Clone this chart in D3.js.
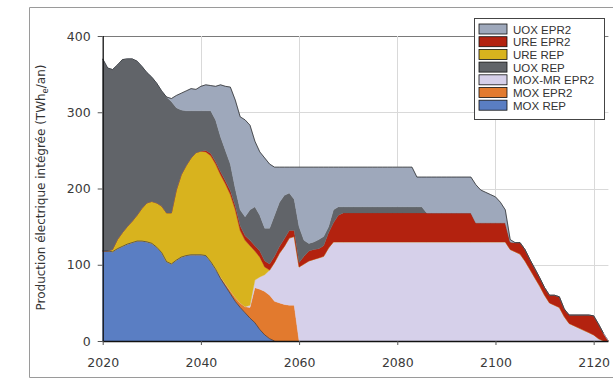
<!DOCTYPE html>
<html>
<head>
<meta charset="utf-8">
<script src="https://cdn.jsdelivr.net/npm/d3@7"></script>
<style>
  html, body { margin: 0; padding: 0; background: #fff; }
  svg { display: block; }
</style>
</head>
<body>
<svg id="chart" width="613" height="381"></svg>
<script>
// Annual electricity production by fuel / reactor type, 2020–2123 (TWhe/an)
const years = d3.range(2020, 2124);

const moxRep = [
  118,118,117,121,124,127,129,131,131,130,
  128,123,116,104,101,106,110,112,113,113,
  113,112,104,94,82,72,62,52,44,37,
  30,24,15,8,3,0,0,0,0,0,
  0,0,0,0,0,0,0,0,0,0,
  0,0,0,0,0,0,0,0,0,0,
  0,0,0,0,0,0,0,0,0,0,
  0,0,0,0,0,0,0,0,0,0,
  0,0,0,0,0,0,0,0,0,0,
  0,0,0,0,0,0,0,0,0,0,
  0,0,0,0
];
const moxEpr2 = [
  0,0,0,0,0,0,0,0,0,0,
  0,0,0,0,0,0,0,0,0,0,
  0,0,0,0,2,3,4,5,6,8,
  14,46,53,57,57,52,50,48,47,47,
  0,0,0,0,0,0,0,0,0,0,
  0,0,0,0,0,0,0,0,0,0,
  0,0,0,0,0,0,0,0,0,0,
  0,0,0,0,0,0,0,0,0,0,
  0,0,0,0,0,0,0,0,0,0,
  0,0,0,0,0,0,0,0,0,0,
  0,0,0,0
];
const moxMrEpr2 = [
  0,0,0,0,0,0,0,0,0,0,
  0,0,0,0,0,0,0,0,0,0,
  0,0,0,0,0,0,0,0,0,0,
  3,10,16,22,33,51,65,76,88,90,
  97,101,105,107,109,111,122,130,130,130,
  130,130,130,130,130,130,130,130,130,130,
  130,130,130,130,130,130,130,130,130,130,
  130,130,130,130,130,130,130,130,130,130,
  130,130,130,120,117,114,105,94,83,72,
  60,50,47,44,32,23,20,17,14,11,
  8,3,0,0
];
const ureRep = [
  0,0,3,12,18,23,28,34,43,51,
  55,58,61,64,67,92,108,118,127,134,
  136,136,139,138,134,131,126,115,95,87,
  78,38,26,10,0,0,0,0,0,0,
  0,0,0,0,0,0,0,0,0,0,
  0,0,0,0,0,0,0,0,0,0,
  0,0,0,0,0,0,0,0,0,0,
  0,0,0,0,0,0,0,0,0,0,
  0,0,0,0,0,0,0,0,0,0,
  0,0,0,0,0,0,0,0,0,0,
  0,0,0,0
];
const ureEpr2 = [
  0,0,0,0,0,0,0,0,0,0,
  0,0,0,0,0,0,0,0,0,0,
  0,2,3,3,4,4,5,5,6,6,
  7,7,8,8,8,8,9,10,10,8,
  6,10,13,13,12,14,20,25,35,38,
  38,38,38,38,38,38,38,38,38,38,
  38,38,38,38,38,38,38,38,38,38,
  38,38,38,38,38,38,25,25,25,25,
  25,25,25,10,12,15,15,13,12,11,
  10,10,13,14,10,11,14,17,20,23,
  25,19,10,0
];
const uoxRep = [
  252,240,236,229,227,220,213,202,186,171,
  163,157,151,152,146,108,85,72,62,55,
  53,52,56,55,46,40,35,23,21,25,
  40,51,47,43,47,54,58,57,49,41,
  47,21,10,10,12,12,8,17,11,8,
  8,8,8,8,8,8,8,8,8,8,
  8,8,8,8,8,8,0,0,0,0,
  0,0,0,0,0,0,0,0,0,0,
  0,0,0,0,0,0,0,0,0,0,
  0,0,0,0,0,0,0,0,0,0,
  0,0,0,0
];
const uoxEpr2 = [
  0,0,0,0,0,0,0,0,0,0,
  0,0,0,0,4,16,22,26,29,28,
  32,34,33,44,68,84,101,116,122,127,
  111,86,83,92,84,63,46,37,34,42,
  78,96,100,98,95,91,78,56,52,52,
  52,52,52,52,52,52,52,52,52,52,
  52,52,52,52,39,39,47,47,47,47,
  47,47,47,47,47,47,50,43,40,37,
  34,27,17,3,0,0,0,0,0,0,
  0,0,0,0,0,0,0,0,0,0,
  0,0,0,0
];

// Stack order, bottom to top
const seriesNames = ["MOX REP", "MOX EPR2", "MOX-MR EPR2", "URE REP", "URE EPR2", "UOX REP", "UOX EPR2"];
const seriesValues = [moxRep, moxEpr2, moxMrEpr2, ureRep, ureEpr2, uoxRep, uoxEpr2];
const seriesColors = ["#5a7ec3", "#e27a2e", "#d6d0ea", "#d8b31e", "#b3220f", "#616469", "#9ea8bb"];

// Legend order, top to bottom
const legendNames = ["UOX EPR2", "URE EPR2", "URE REP", "UOX REP", "MOX-MR EPR2", "MOX EPR2", "MOX REP"];

const yTicks = [0, 100, 200, 300, 400];
const xTicks = [2020, 2040, 2060, 2080, 2100, 2120];

const rows = years.map((yr, i) => {
  const r = { year: yr };
  seriesNames.forEach((n, k) => { r[n] = seriesValues[k][i]; });
  return r;
});

const svg = d3.select("#chart");
const plot = { left: 102.7, right: 608.4, top: 36, bottom: 341 };

const x = d3.scaleLinear().domain([2020, 2123]).range([plot.left, plot.right]);
const y = d3.scaleLinear().domain([0, 400]).range([plot.bottom, plot.top]);

// outer frame
svg.append("path")
  .attr("d", `M613,7.5 H29.5 V377.5 H613`)
  .attr("fill", "none").attr("stroke", "#9a9a9a").attr("stroke-width", 1);

// gridlines
const grid = svg.append("g");
grid.selectAll("line.h").data(yTicks.filter(v => v > 0)).join("line")
  .attr("x1", plot.left).attr("x2", plot.right)
  .attr("y1", d => Math.round(y(d)) + 0.5).attr("y2", d => Math.round(y(d)) + 0.5)
  .attr("stroke", d => d === 400 ? "#7a7a7a" : "#d9d9d9").attr("stroke-width", 1);
grid.selectAll("line.v").data(xTicks.filter(v => v > 2020)).join("line")
  .attr("x1", d => Math.round(x(d)) + 0.5).attr("x2", d => Math.round(x(d)) + 0.5)
  .attr("y1", plot.top).attr("y2", plot.bottom)
  .attr("stroke", "#d9d9d9").attr("stroke-width", 1);

// stacked areas
const stacked = d3.stack().keys(seriesNames)(rows);
const area = d3.area()
  .x(d => x(d.data.year))
  .y0(d => y(d[0]))
  .y1(d => y(d[1]));

svg.append("g").selectAll("path").data(stacked).join("path")
  .attr("d", area)
  .attr("fill", (d, i) => seriesColors[i])
  .attr("stroke", (d, i) => seriesColors[i])
  .attr("stroke-width", 0.4);

// dark edge on the total and on the bottom layer
const topLine = d3.line().x(d => x(d.data.year)).y(d => y(d[1]));
const edgeG = svg.append("g").attr("fill", "none").attr("stroke-linejoin", "round");
edgeG.append("path")
  .datum(stacked[stacked.length - 1].filter(d => d[1] > 0))
  .attr("d", topLine)
  .attr("stroke", "#1e1e1e").attr("stroke-width", 0.9).attr("stroke-opacity", 0.8);
edgeG.append("path")
  .datum(stacked[0].filter(d => d.data.year <= 2055))
  .attr("d", topLine)
  .attr("stroke", "#1e2a40").attr("stroke-width", 0.9).attr("stroke-opacity", 0.7);

// axes
const yAxis = d3.axisLeft(y).tickValues(yTicks).tickSize(5).tickPadding(7).tickFormat(d3.format("d"));
const xAxis = d3.axisBottom(x).tickValues(xTicks).tickSize(4).tickPadding(13).tickFormat(d3.format("d"));

const gy = svg.append("g").attr("transform", `translate(${plot.left},0)`).call(yAxis);
const gx = svg.append("g").attr("transform", `translate(0,${plot.bottom})`).call(xAxis);

[gy, gx].forEach(g => {
  g.select(".domain").attr("stroke", "#111").attr("stroke-width", 1.3);
  g.selectAll(".tick line").attr("stroke", "#555");
  g.selectAll(".tick text")
    .attr("font-family", "DejaVu Sans, Verdana, sans-serif")
    .attr("font-size", 12.5)
    .attr("fill", "#3a3a3a");
});
gx.select(".domain").attr("d", `M${plot.left},0.5H${plot.right}`);
gy.select(".domain").attr("d", `M0.5,${plot.bottom}V${plot.top}`);

// y-axis title
const yTitle = svg.append("text")
  .attr("transform", `translate(45,${(plot.top + plot.bottom) / 2 - 1}) rotate(-90)`)
  .attr("text-anchor", "middle")
  .attr("font-family", "DejaVu Sans, Verdana, sans-serif")
  .attr("font-size", 12)
  .attr("fill", "#333");
yTitle.append("tspan").text("Production électrique intégrée (TWh");
yTitle.append("tspan").attr("font-size", 8.5).attr("dy", 3).text("e");
yTitle.append("tspan").attr("dy", -3).text("/an)");

// legend
const lg = svg.append("g").attr("transform", "translate(474,18)");
lg.append("rect")
  .attr("x", 0.5).attr("y", 0.5).attr("width", 130).attr("height", 101)
  .attr("fill", "#fff").attr("stroke", "#444").attr("stroke-width", 1);
const rowH = 12.7;
const items = lg.selectAll("g.item").data(legendNames).join("g")
  .attr("transform", (d, i) => `translate(5,${6 + i * rowH})`);
items.append("rect")
  .attr("width", 28).attr("height", 10)
  .attr("fill", d => seriesColors[seriesNames.indexOf(d)])
  .attr("stroke", "#111").attr("stroke-width", 0.8);
items.append("text")
  .attr("x", 34).attr("y", 9.5)
  .attr("font-family", "Liberation Sans, Arial, sans-serif")
  .attr("font-size", 11.5)
  .attr("fill", "#333")
  .text(d => d);
</script>
</body>
</html>
